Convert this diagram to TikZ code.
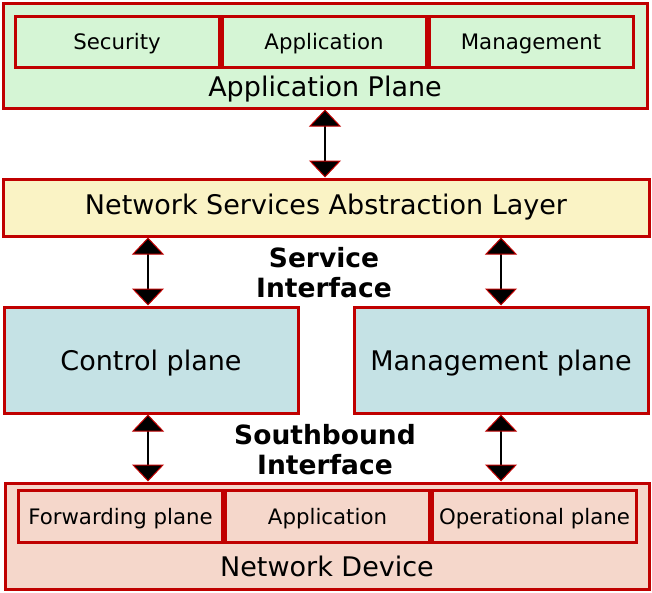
\documentclass[tikz,border=0pt]{standalone}
\usepackage{fontspec}
\setmainfont{DejaVu Sans}
\usetikzlibrary{positioning,arrows.meta}
\definecolor{dred}{HTML}{C00000}
\definecolor{appgreen}{HTML}{D5F5D5}
\definecolor{nsalyellow}{HTML}{FAF3C5}
\definecolor{ctrlblue}{HTML}{C5E2E5}
\definecolor{devpink}{HTML}{F5D7CB}

\begin{document}
\begin{tikzpicture}[
  x=1pt,y=-1pt,
  plane/.style={draw=dred,line width=3pt,inner sep=0pt,font=\fontsize{27}{30}\selectfont},
  subbox/.style={draw=dred,line width=3pt,inner sep=0pt,minimum width=204pt,text height=21pt,text depth=5pt,font=\fontsize{21.3}{24}\selectfont},
  biglabel/.style={font=\fontsize{27}{30}\selectfont},
  iflabel/.style={font=\fontsize{26.5}{29.5}\selectfont\bfseries,align=center},
  dbl/.style={{Triangle[width=32pt,length=17pt,line width=1pt,color=dred,fill=black]}-{Triangle[width=32pt,length=17pt,line width=1pt,color=dred,fill=black]},line width=2pt,black}
]
\useasboundingbox (0,0) rectangle (652,592);

% application plane
\node[plane,fill=appgreen,minimum width=644pt,minimum height=105pt] (ap) at (325,55.5) {};
\node[subbox,minimum height=51pt] (app) at (324,41.5) {Application};
\node[subbox,minimum height=51pt,left=0pt of app] (sec) {Security};
\node[subbox,minimum height=51pt,right=0pt of app] (mgmt) {Management};
\node[biglabel] (aplabel) at (325,89) {Application Plane};

% abstraction layer
\node[plane,fill=nsalyellow,minimum width=646pt,minimum height=57pt] (nsal) at (326,207.5) {Network Services Abstraction Layer};

% control and management
\node[plane,fill=ctrlblue,minimum width=294pt,minimum height=106pt,text height=26pt,text depth=6pt] (cp) at (151,360) {Control plane};
\node[plane,fill=ctrlblue,minimum width=294pt,minimum height=106pt,text height=26pt,text depth=6pt] (mp) at (501,360) {Management plane};
\node[iflabel] (service) at (324,272.5) {Service\\Interface};

% network device
\node[plane,fill=devpink,minimum width=644pt,minimum height=106pt] (nd) at (327,536) {};
\node[subbox,minimum height=52pt] (devapp) at (327.5,516) {Application};
\node[subbox,minimum height=52pt,left=0pt of devapp] (fwd) {Forwarding plane};
\node[subbox,minimum height=52pt,right=0pt of devapp] (oper) {Operational plane};
\node[biglabel] (ndlabel) at (327,566.5) {Network Device};
\node[iflabel] (south) at (325,449.5) {Southbound\\Interface};

\draw[dbl] (ap.south) -- (ap.south |- nsal.north);
\draw[dbl] ([xshift=-3pt]cp.north |- nsal.south) -- ([xshift=-3pt]cp.north);
\draw[dbl] (mp.north |- nsal.south) -- (mp.north);
\draw[dbl] ([xshift=-3pt]cp.south) -- ([xshift=-3pt]cp.south |- nd.north);
\draw[dbl] (mp.south) -- (mp.south |- nd.north);
\end{tikzpicture}
\end{document}
